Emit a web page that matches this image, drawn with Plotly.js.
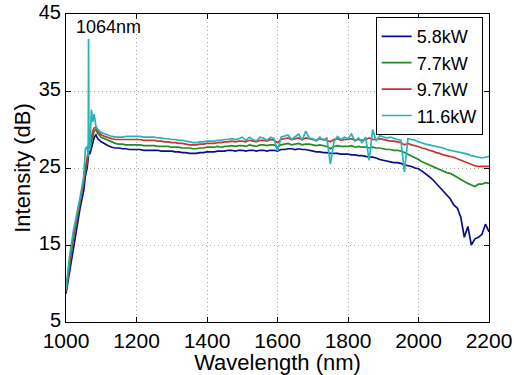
<!DOCTYPE html>
<html>
<head>
<meta charset="utf-8">
<script src="https://cdn.plot.ly/plotly-3.0.1.min.js"></script>
<style>html,body{margin:0;padding:0;background:#fff;}#chart{width:514px;height:375px;}</style>
</head>
<body>
<div id="chart"></div>
<script>
// Wavelength grid (nm)
const wavelengthEarly = [1000,1010,1020,1030,1040,1050,1055,1060,1063,1064,1065,1068,1072,1076,1080,1085,1090];
const wavelengthMain = [];
for (let w = 1100; w <= 2200; w += 10) wavelengthMain.push(w);
const wavelength = wavelengthEarly.concat(wavelengthMain);

const seriesNames = ["5.8kW", "7.7kW", "9.7kW", "11.6kW"];

// Intensity (dB) for 5.8 kW
const p58 = [8.7,11.5,14.0,17.0,19.8,22.0,24.0,25.0,26.0,26.5,27.2,26.8,27.5,28.0,29.0,29.3,28.8,
 28.4,28.1,27.9,27.7,27.6,27.6,27.5,27.5,27.4,27.4,27.4,
 27.4,27.3,27.3,27.3,27.3,27.3,27.2,27.2,27.2,27.2,
 27.1,27.1,27.0,27.0,26.9,26.9,26.9,27.0,27.0,27.1,
 27.1,27.1,27.2,27.2,27.2,27.3,27.3,27.2,27.3,27.3,
 27.2,27.3,27.3,27.2,27.3,27.3,27.2,27.3,27.3,27.2,
 27.4,27.4,27.5,27.5,27.4,27.5,27.4,27.4,27.3,27.2,
 27.1,27.1,27.0,27.0,26.9,26.9,26.9,26.8,26.8,26.8,
 26.7,26.7,26.6,26.6,26.5,26.4,26.4,26.3,26.1,26.0,
 25.9,25.8,25.7,25.7,25.6,25.4,25.3,25.2,25.0,24.9,
 24.6,24.3,23.9,23.5,23.0,22.4,21.9,21.5,21.0,20.2,
 19.8,18.6,16.0,17.4,15.0,15.8,16.0,16.4,17.7,16.7];

// Intensity (dB) for 7.7 kW
const p77 = [8.9,12.5,15.5,18.0,20.5,23.0,24.6,25.8,26.8,27.5,28.0,27.6,28.4,29.0,29.8,30.0,29.5,
 29.0,28.8,28.5,28.3,28.2,28.1,28.1,28.0,28.0,28.0,28.0,
 28.0,27.9,27.9,27.9,27.9,27.8,27.8,27.8,27.8,27.7,
 27.7,27.7,27.6,27.6,27.6,27.5,27.5,27.6,27.6,27.7,
 27.7,27.7,27.8,27.7,27.8,27.8,27.9,27.8,27.9,27.9,
 27.8,28.0,27.9,27.8,28.0,28.0,27.9,28.0,28.0,27.7,
 28.0,28.1,28.2,28.0,28.1,28.2,28.0,28.1,28.1,28.0,
 27.9,28.0,27.9,27.8,27.5,27.8,27.9,27.8,27.8,27.8,
 27.9,27.7,27.8,27.7,27.7,27.6,27.7,27.6,27.6,27.5,
 27.4,27.4,27.3,27.3,27.2,27.0,26.8,26.6,26.4,26.1,
 25.8,25.6,25.3,25.1,24.9,24.7,24.6,24.4,24.3,24.1,
 23.8,23.5,23.2,23.0,22.8,22.6,22.9,22.9,23.1,23.0];

// Intensity (dB) for 9.7 kW
const p97 = [9.0,13.0,16.0,18.3,20.8,23.3,25.0,26.3,27.2,28.0,28.5,28.0,29.0,29.8,30.2,30.3,29.8,
 29.3,29.1,28.9,28.8,28.7,28.7,28.7,28.7,28.7,28.7,28.7,
 28.7,28.6,28.6,28.6,28.6,28.5,28.5,28.4,28.4,28.3,
 28.3,28.2,28.2,28.1,28.0,28.0,28.0,28.1,28.1,28.2,
 28.2,28.2,28.3,28.3,28.4,28.4,28.5,28.4,28.5,28.5,
 28.4,28.6,28.5,28.4,28.6,28.6,28.5,28.7,28.6,28.3,
 28.7,28.8,28.9,28.7,28.8,28.9,28.7,28.9,28.8,28.7,
 28.6,28.8,28.7,28.6,28.4,28.7,28.8,28.6,28.7,28.7,
 28.8,28.6,28.7,28.6,28.7,28.9,28.7,28.7,28.8,28.7,
 28.6,28.5,28.5,28.4,28.3,28.0,28.2,28.0,27.9,27.8,
 27.6,27.5,27.3,27.2,27.0,26.9,26.7,26.6,26.5,26.4,
 26.2,26.0,25.8,25.6,25.5,25.3,25.2,25.2,25.2,25.2];

// Intensity (dB) for 11.6 kW
const p116 = [9.2,13.5,16.6,18.7,21.2,23.8,27.5,27.8,26.5,41.8,30.0,27.5,32.6,31.0,32.0,30.4,30.0,
 29.6,29.4,29.2,29.1,29.0,29.0,29.0,29.1,29.1,29.1,29.1,
 29.1,29.0,29.0,29.0,29.0,28.9,28.9,28.8,28.8,28.7,
 28.7,28.6,28.6,28.5,28.4,28.3,28.3,28.4,28.4,28.5,
 28.5,28.5,28.6,28.6,28.7,28.7,28.8,28.7,28.8,29.0,
 28.6,29.0,28.7,28.5,29.0,28.9,28.6,29.0,28.8,27.2,
 29.0,29.2,29.3,28.7,29.1,29.4,28.6,29.8,28.9,28.8,
 28.5,29.0,28.6,28.9,25.5,28.4,29.1,28.7,29.0,28.8,
 29.4,28.5,28.9,28.3,29.0,26.0,30.0,28.5,29.2,29.0,
 28.9,29.0,28.8,28.7,28.6,24.5,28.8,28.7,28.6,28.4,
 28.2,28.1,28.0,27.9,27.8,27.7,27.6,27.4,27.3,27.2,
 27.1,27.0,26.9,26.8,26.6,26.5,26.4,26.3,26.4,26.5];

const colors = ["#0d0d8a", "#238b23", "#d03030", "#27b4b4"];
const values = [p58, p77, p97, p116];

const xTicks = [1000,1200,1400,1600,1800,2000,2200];
const yTicks = [5,15,25,35,45];

const traces = values.map((v, i) => ({
  x: wavelength, y: v, type: "scatter", mode: "lines", name: seriesNames[i],
  line: {color: colors[i], width: 1.7}
}));

const font = "Liberation Sans, Arial, sans-serif";
const layout = {
  width: 514, height: 375,
  margin: {l: 66, r: 25, t: 14, b: 53},
  paper_bgcolor: "#fff", plot_bgcolor: "#fff",
  font: {family: font, color: "#000"},
  showlegend: true,
  legend: {x: 0.985, y: 0.99, xanchor: "right", yanchor: "top",
    bgcolor: "#fff", bordercolor: "#000", borderwidth: 1,
    font: {size: 18, family: font}, tracegroupgap: 0},
  xaxis: {range: [1000, 2200], tickvals: xTicks, ticktext: xTicks.map(String),
    showline: true, linecolor: "#000", linewidth: 1, mirror: "ticks",
    ticks: "inside", ticklen: 5, tickcolor: "#000",
    showgrid: true, gridcolor: "#aaa", griddash: "1px,3px", gridwidth: 1, zeroline: false,
    tickfont: {size: 21, family: font},
    title: {text: "Wavelength (nm)", font: {size: 22, family: font}, standoff: 3}},
  yaxis: {range: [5, 45], tickvals: yTicks, ticktext: yTicks.map(String),
    showline: true, linecolor: "#000", linewidth: 1, mirror: "ticks",
    ticks: "inside", ticklen: 5, tickcolor: "#000",
    showgrid: true, gridcolor: "#aaa", griddash: "1px,3px", gridwidth: 1, zeroline: false,
    tickfont: {size: 20, family: font}, ticklabelshift: -2,
    title: {text: "Intensity (dB)", font: {size: 22, family: font}, standoff: 2}},
  annotations: [{x: 1121, y: 43.3, xref: "x", yref: "y", text: "1064nm", showarrow: false,
    font: {size: 18, family: font, color: "#000"}}]
};

Plotly.newPlot("chart", traces, layout, {staticPlot: true, displayModeBar: false});
</script>
</body>
</html>
